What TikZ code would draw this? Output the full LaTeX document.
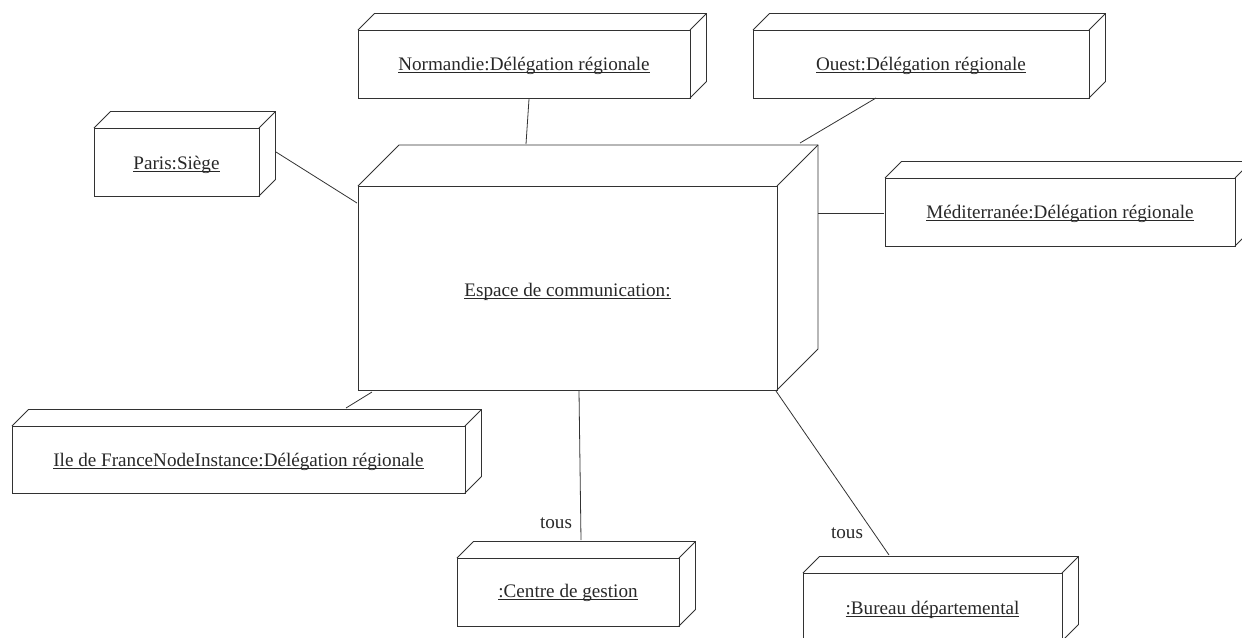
\documentclass[tikz,border=0pt]{standalone}
\usepackage{fontspec}
\setmainfont{Liberation Serif}
\definecolor{linecol}{RGB}{50,50,50}
\definecolor{textcol}{RGB}{40,40,40}
\tikzset{
  front/.style={draw=linecol, line width=0.65pt, inner sep=0pt, outer sep=0pt},
  edgeline/.style={draw=linecol, line width=0.6pt},
  boxline/.style={draw=linecol, line width=0.65pt, line join=miter},
  lab/.style={inner sep=0pt, font=\fontsize{14.35}{16}\selectfont, text=textcol}
}
\newsavebox\ulbox
\newcommand\ultext[1]{\sbox\ulbox{#1}\rlap{\rule[-1.7pt]{\wd\ulbox}{0.55pt}}\usebox\ulbox}
% name, x0, y0, x1, y1, depth, baseline y, text
\newcommand\depbox[8]{%
  \node[front, minimum width={(#4-#2)*0.75pt}, minimum height={(#5-#3)*0.75pt}] (#1) at ({(#2+#4)/2},{(#3+#5)/2}) {};
  \node[lab, anchor=base] (#1-text) at ({(#2+#4)/2},#7) {\ultext{#8}};
  \draw[boxline] (#1.north west) -- ([shift={(#6,-#6)}]#1.north west) -- ([shift={(#6,-#6)}]#1.north east)
     -- ([shift={(#6,-#6)}]#1.south east) -- (#1.south east);
  \draw[boxline] (#1.north east) -- ([shift={(#6,-#6)}]#1.north east);
}
\begin{document}
\begin{tikzpicture}[x=0.75pt,y=-0.75pt]
\path[use as bounding box, clip] (0,0) rectangle (1242,637);
\depbox{esp}{358}{186}{777}{390}{41}{296.7}{Espace de communication:}
\depbox{nor}{358}{30}{690}{98}{16.5}{70}{Normandie:Délégation régionale}
\depbox{oue}{753}{30}{1089}{98}{16.5}{70}{Ouest:Délégation régionale}
\depbox{par}{94}{128}{259}{196}{16.5}{169}{Paris:Siège}
\depbox{med}{885}{178}{1235}{246}{16.5}{218.3}{Méditerranée:Délégation régionale}
\depbox{ile}{12}{426}{465}{493}{16.5}{466}{Ile de FranceNodeInstance:Délégation régionale}
\depbox{cen}{457}{558}{679}{626}{16.5}{597.7}{:Centre de gestion}
\depbox{bur}{803}{573}{1062}{641}{16.5}{614.3}{:Bureau départemental}
\draw[edgeline] ([shift={(5,1)}]nor.south) -- ([shift={(-41.5,-42)}]esp.north);
\draw[edgeline] ([shift={(-45,0)}]oue.south) -- ([shift={(232.5,-43)}]esp.north);
\draw[edgeline] ([shift={(17,-10)}]par.east) -- ([shift={(-1,-85)}]esp.west);
\draw[edgeline] ([shift={(-1,1)}]med.west) -- ([shift={(41,-75)}]esp.east);
\draw[edgeline] ([shift={(107.5,-18)}]ile.north) -- ([shift={(-195.5,2)}]esp.south);
\draw[edgeline] ([shift={(13,-18)}]cen.north) -- ([shift={(11.5,1)}]esp.south);
\draw[edgeline] ([shift={(-43.5,-18)}]bur.north) -- ([shift={(208.5,1)}]esp.south);
\node[lab] (t1) at (556,523) {tous};
\node[lab] (t2) at (847,533) {tous};
\end{tikzpicture}
\end{document}
